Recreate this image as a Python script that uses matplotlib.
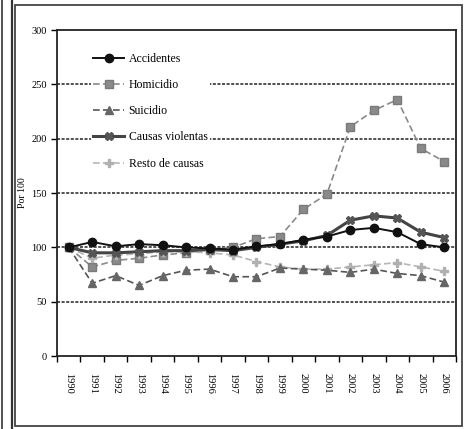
import matplotlib.pyplot as plt
from matplotlib.lines import Line2D
from matplotlib.patches import Rectangle

# --- Data (index, 1990 = 100) ---
years = list(range(1990, 2007))
accidentes = [100, 105, 101, 103, 102, 100, 99, 98, 101, 103, 107, 110, 116, 118, 114, 103, 100]
homicidio = [100, 82, 88, 90, 93, 95, 98, 100, 108, 110, 135, 149, 211, 226, 236, 191, 179]
suicidio = [100, 67, 74, 65, 74, 79, 80, 73, 73, 81, 80, 79, 77, 80, 76, 74, 68]
causas_violentas = [100, 95, 95, 96, 97, 97, 98, 97, 100, 103, 106, 111, 125, 129, 127, 114, 109]
resto_causas = [100, 90, 93, 94, 96, 96, 95, 93, 87, 82, 80, 80, 82, 84, 86, 82, 78]

plt.rcParams['font.family'] = ['Liberation Serif', 'DejaVu Serif']

fig = plt.figure(figsize=(4.65, 4.29), dpi=100)

# outer frame lines
fig.add_artist(Line2D([0.004, 0.004], [0.0, 1.0], color='#333333', lw=1.2, transform=fig.transFigure))
fig.add_artist(Line2D([0.026, 0.026], [0.0, 1.0], color='#333333', lw=1.6, transform=fig.transFigure))
fig.add_artist(Rectangle((0.032, 0.008), 0.962, 0.980, fill=False, ec='#444444', lw=1.3,
                         transform=fig.transFigure))

ax = fig.add_axes([0.1226, 0.170, 0.858, 0.760])

ax.plot(years, homicidio, color='#8a8a8a', ls=(0, (4, 2)), lw=1.2, marker='s', ms=6,
        mfc='#8a8a8a', mec='#7a7a7a', label='Homicidio', zorder=3)
ax.plot(years, resto_causas, color='#b5b5b5', ls=(0, (4, 2)), lw=1.2, marker='P', ms=6,
        mfc='#b0b0b0', mec='#b0b0b0', label='Resto de causas', zorder=3)
ax.plot(years, suicidio, color='#555555', ls=(0, (4, 2)), lw=1.2, marker='^', ms=6,
        mfc='#666666', mec='#666666', label='Suicidio', zorder=3)
ax.plot(years, causas_violentas, color='#444444', ls='-', lw=2.2, marker='X', ms=6,
        mfc='#555555', mec='#555555', label='Causas violentas', zorder=4)
ax.plot(years, accidentes, color='#111111', ls='-', lw=1.4, marker='o', ms=6,
        mfc='#111111', mec='#111111', label='Accidentes', zorder=5)

for yv in [50, 100, 150, 200, 250]:
    ax.axhline(yv, color='#222222', ls=(0, (2, 1)), lw=1.1, zorder=1)

ax.set_xlim(1989.5, 2006.5)
ax.set_ylim(0, 300)
ax.set_yticks(range(0, 301, 50))
ax.set_xticks([y + 0.5 for y in [1989] + years])
ax.set_xticklabels([])
ax.set_xticks(years, minor=True)
ax.set_xticklabels([str(y) for y in years], minor=True, rotation=-90, fontsize=7.5)
ax.tick_params(axis='x', which='minor', length=0, pad=12)
ax.tick_params(axis='x', which='major', direction='out', length=4, width=1)
ax.tick_params(axis='y', direction='out', length=4, width=1, labelsize=7.5)
for s in ax.spines.values():
    s.set_linewidth(1.3)
    s.set_color('#222222')

ax.set_ylabel('Por 100', fontsize=7, labelpad=3)

handles, labels = ax.get_legend_handles_labels()
order = ['Accidentes', 'Homicidio', 'Suicidio', 'Causas violentas', 'Resto de causas']
hmap = dict(zip(labels, handles))
leg = ax.legend([hmap[k] for k in order], order, loc='upper left', bbox_to_anchor=(0.07, 0.955),
                frameon=True, fontsize=8.5, labelspacing=1.2, handlelength=2.6,
                handletextpad=0.4, borderpad=0.2)
leg.get_frame().set_facecolor('white')
leg.get_frame().set_edgecolor('none')
leg.get_frame().set_alpha(1)

fig.savefig('out.png', dpi=100)
